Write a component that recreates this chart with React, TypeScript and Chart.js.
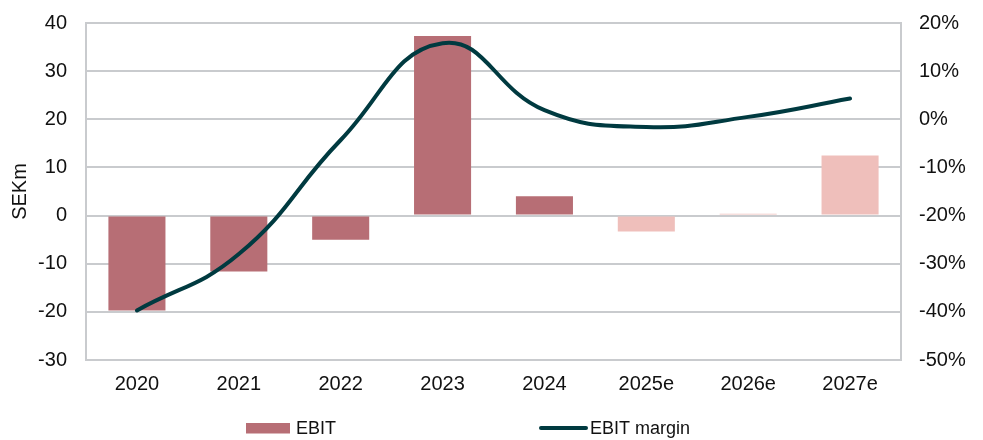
import React, { useEffect, useRef } from "react";
import { Chart, registerables } from "chart.js";

Chart.register(...registerables);

const categories = ["2020", "2021", "2022", "2023", "2024", "2025e", "2026e", "2027e"];
const ebit = [-19.7, -11.6, -5.0, 37.3, 4.0, -3.3, 0.4, 12.5];
const ebitMargin = [-39.7, -28.0, -4.3, 15.8, 1.9, -1.6, 0.5, 4.3];
const isEstimate = [false, false, false, false, false, true, true, true];
const legendLabels = ["EBIT", "EBIT margin"];

const BAR = "#b76e75";
const BAR_EST = "#efbfbb";
const LINE = "#003a40";
const GRID = "#c9cbce";
const FONT = "'Liberation Sans', Arial, sans-serif";

const legendPlugin = {
  id: "customLegend",
  afterDraw(chart: any) {
    const ctx = chart.ctx;
    const cx = chart.width / 2;
    const y = 428;
    ctx.save();
    ctx.font = `18px ${FONT}`;
    ctx.textBaseline = "middle";
    ctx.fillStyle = BAR;
    ctx.fillRect(cx - 245.5, y - 5, 44, 10.5);
    ctx.fillStyle = "#111";
    ctx.fillText(legendLabels[0], cx - 195.5, y + 1);
    ctx.strokeStyle = LINE;
    ctx.lineWidth = 4;
    ctx.lineCap = "round";
    ctx.beginPath();
    ctx.moveTo(cx + 49.5, y);
    ctx.lineTo(cx + 94.5, y);
    ctx.stroke();
    ctx.fillStyle = "#111";
    ctx.fillText(legendLabels[1], cx + 98.5, y + 1);
    ctx.restore();
  },
};

export default function App() {
  const ref = useRef<HTMLCanvasElement>(null);
  useEffect(() => {
    const tickFont = { family: FONT, size: 20 };
    const fitY = (w: number) => (s: any) => {
      s.width = w;
      s.paddingTop = 0;
      s.paddingBottom = 0;
    };
    const chart = new Chart(ref.current!, {
      type: "bar",
      data: {
        labels: categories,
        datasets: [
          {
            type: "line",
            label: "EBIT margin",
            data: ebitMargin,
            yAxisID: "y1",
            borderColor: LINE,
            backgroundColor: LINE,
            borderWidth: 4,
            borderCapStyle: "round",
            pointRadius: 0,
            tension: 0.45,
            order: 0,
          } as any,
          {
            type: "bar",
            label: "EBIT",
            data: ebit,
            yAxisID: "y",
            backgroundColor: isEstimate.map((e) => (e ? BAR_EST : BAR)),
            barPercentage: 0.56,
            categoryPercentage: 1,
            order: 1,
          },
        ],
      },
      options: {
        animation: false,
        responsive: true,
        maintainAspectRatio: false,
        layout: { padding: { top: 23, bottom: 40, left: 0, right: 0 } },
        plugins: { legend: { display: false }, tooltip: { enabled: false } },
        scales: {
          x: {
            grid: { display: false, drawTicks: false },
            border: { display: false },
            ticks: { color: "#111", font: tickFont, padding: 12, maxRotation: 0, autoSkip: false },
            afterFit: (s: any) => { s.height = 40; s.paddingLeft = 0; s.paddingRight = 0; },
          },
          y: {
            position: "left",
            min: -30,
            max: 40,
            ticks: { stepSize: 10, color: "#111", font: tickFont, padding: 19 },
            grid: { color: GRID, lineWidth: 2, drawTicks: false },
            border: { display: true, color: GRID, width: 2 },
            title: { display: true, text: "SEKm", color: "#111", font: tickFont, padding: { top: 8, bottom: 0 } },
            afterFit: fitY(86),
          },
          y1: {
            position: "right",
            min: -50,
            max: 20,
            ticks: { stepSize: 10, color: "#111", font: tickFont, padding: 18, callback: (v: any) => `${v}%` },
            grid: { display: false, drawTicks: false },
            border: { display: true, color: GRID, width: 2 },
            afterFit: fitY(82),
          },
        },
      },
      plugins: [legendPlugin],
    });
    return () => chart.destroy();
  }, []);
  return (
    <div style={{ position: "absolute", left: 0, top: 0, width: 983, height: 440 }}>
      <canvas ref={ref} />
    </div>
  );
}
